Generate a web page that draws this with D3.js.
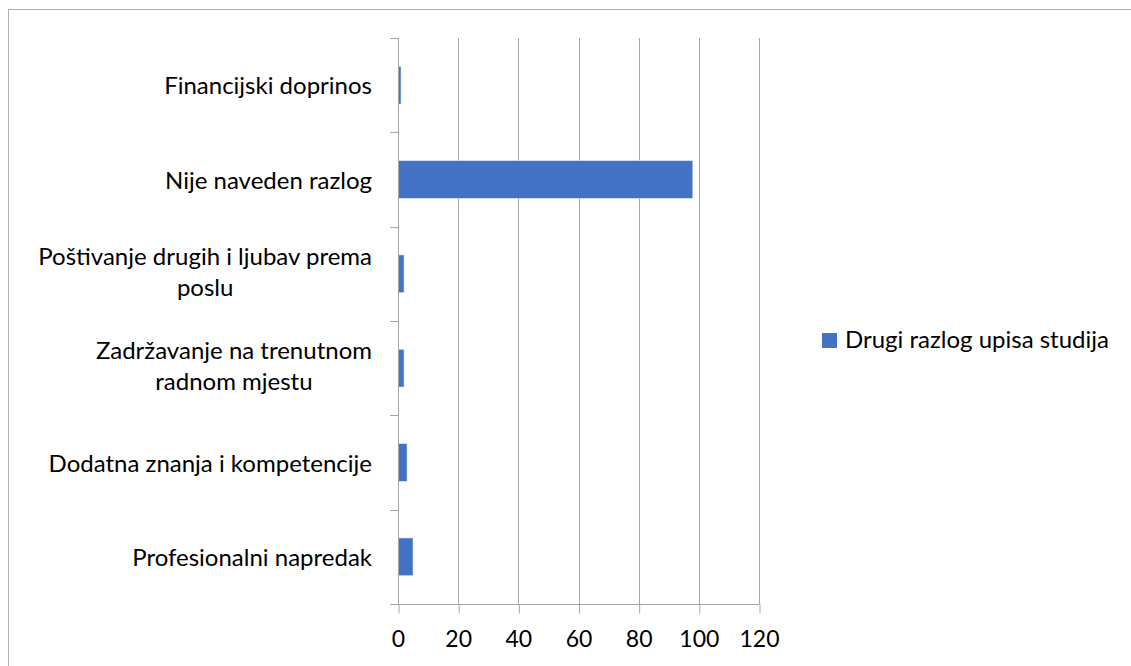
<!DOCTYPE html>
<html>
  <head>
    <meta charset="utf-8">
    <style type="text/css">
      body { margin: 0; background: #fff; }
      text { font-family: Lato, "Open Sans", sans-serif; font-size: 24px; fill: #000; }
      .grid line { stroke: #a6a6a6; stroke-width: 1; }
      .axis path, .axis line { stroke: #a6a6a6; stroke-width: 1; }
    </style>
  </head>
  <body>
    <script src="https://d3js.org/d3.v7.min.js"></script>
    <script>
      // data
      var categories = [
        "Financijski doprinos",
        "Nije naveden razlog",
        "Poštivanje drugih i ljubav prema\nposlu",
        "Zadržavanje na trenutnom\nradnom mjestu",
        "Dodatna znanja i kompetencije",
        "Profesionalni napredak"
      ];
      var values = [1, 98, 2, 2, 3, 5];
      var xTicks = [0, 20, 40, 60, 80, 100, 120];
      var seriesName = "Drugi razlog upisa studija";

      var width = 1131, height = 666;
      var barColor = "#4472c4";

      var svg = d3.select("body").append("svg")
          .attr("width", width)
          .attr("height", height);

      // chart area border
      svg.append("rect")
          .attr("x", 8.5).attr("y", 9.5)
          .attr("width", 1140).attr("height", 700)
          .attr("fill", "none")
          .attr("stroke", "#b0b0b0");

      var x = d3.scaleLinear().domain([0, 120]).range([398, 759]);
      var y = d3.scaleBand().domain(categories).range([38, 604])
          .paddingInner(0.6).paddingOuter(0.3);

      // vertical gridlines
      svg.append("g").attr("class", "grid")
        .selectAll("line")
        .data(xTicks.slice(1))
        .enter().append("line")
          .attr("x1", function(d) { return Math.round(x(d)) + 0.5; })
          .attr("x2", function(d) { return Math.round(x(d)) + 0.5; })
          .attr("y1", 38).attr("y2", 604);

      // bars
      svg.append("g")
        .selectAll("rect")
        .data(categories)
        .enter().append("rect")
          .attr("x", x(0))
          .attr("y", function(d) { return y(d); })
          .attr("width", function(d, i) { return x(values[i]) - x(0); })
          .attr("height", y.bandwidth())
          .attr("fill", barColor)
          .attr("stroke", "#dfe6f4")
          .attr("stroke-width", 0.6);

      // bottom axis
      var xAxis = svg.append("g").attr("class", "axis")
          .attr("transform", "translate(0,604.5)")
          .call(d3.axisBottom(x).tickValues(xTicks).tickSize(9).tickSizeOuter(0).tickPadding(17));
      xAxis.select(".domain").attr("d", "M390,0H" + (x(120) + 0.5));
      xAxis.selectAll(".tick line").attr("transform", "translate(0.5,0)");
      xAxis.selectAll("text").style("font-family", "Lato, 'Open Sans', sans-serif").style("font-size", "23px").attr("fill", "#000");

      // left axis: line and tick marks at category boundaries
      var yAxis = svg.append("g").attr("class", "axis");
      var step = y.step();
      var y0 = y.range()[0];
      yAxis.append("line")
          .attr("x1", Math.round(x(0)) + 0.5).attr("x2", Math.round(x(0)) + 0.5)
          .attr("y1", y0).attr("y2", 604);
      yAxis.selectAll(".tk")
        .data(d3.range(categories.length))
        .enter().append("line")
          .attr("class", "tk")
          .attr("x1", 390).attr("x2", x(0))
          .attr("y1", function(i) { return Math.round(y0 + i * step) + 0.5; })
          .attr("y2", function(i) { return Math.round(y0 + i * step) + 0.5; });

      // category labels
      var labels = svg.append("g").selectAll("text")
        .data(categories)
        .enter().append("text")
          .attr("text-anchor", "middle");
      labels.each(function(d) {
        var lines = d.split("\n");
        var t = d3.select(this);
        var cy = y(d) + y.bandwidth() / 2;
        if (lines.length === 1) {
          t.attr("text-anchor", "end")
            .attr("x", 372).attr("y", cy + 9).text(d);
        } else {
          // centre the wrapped lines on the widest one, right edge fixed
          lines.forEach(function(l, k) {
            t.append("tspan").attr("y", cy - 9 + k * 31).text(l);
          });
          var w = d3.max(t.selectAll("tspan").nodes(), function(n) { return n.getComputedTextLength(); });
          t.selectAll("tspan").attr("x", 372 - w / 2);
        }
      });

      // legend
      var legend = svg.append("g");
      legend.append("rect")
          .attr("x", 822).attr("y", 333)
          .attr("width", 15).attr("height", 15)
          .attr("fill", barColor);
      legend.append("text")
          .attr("x", 845).attr("y", 348)
          .text(seriesName);
    </script>
  </body>
</html>
